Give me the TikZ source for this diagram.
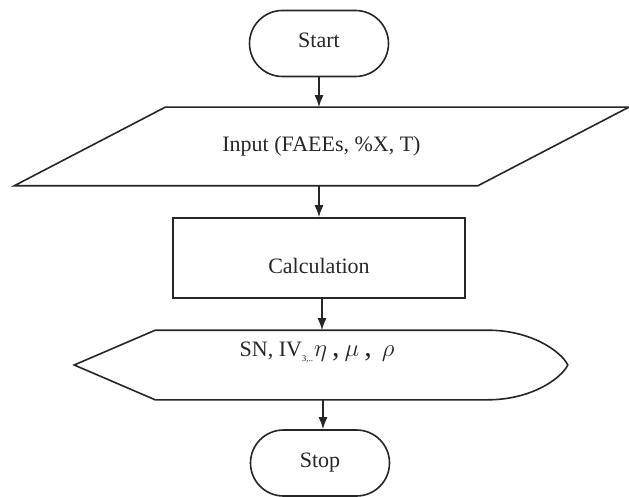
\documentclass[tikz,border=0pt]{standalone}
\usepackage{fontspec}
\setmainfont{Liberation Serif}
\usetikzlibrary{arrows.meta,shapes.misc}

\newcommand{\lowtext}[2]{\raisebox{#1}[0pt][0pt]{#2}}

\begin{document}
\begin{tikzpicture}[x=1pt, y=-1pt, line width=1.6pt, color=black!85,
    font=\fontsize{22}{26}\selectfont,
    terminal/.style={draw, rounded rectangle, minimum width=139pt, minimum height=66pt, inner sep=0pt},
    inout/.style={minimum width=613pt, minimum height=77pt, inner sep=0pt},
    process/.style={draw, rectangle, minimum width=292pt, minimum height=80pt, inner sep=0pt},
    display/.style={minimum width=492pt, minimum height=68pt, inner sep=0pt}]
        \tikzset{>={Latex[length=12pt,width=9pt]}}

        \useasboundingbox (0,0) rectangle (629,497);

	\node[terminal] (start) at (319,43.5) {\lowtext{-4pt}{Start}};
	\node[inout] (input) at (321.5,146.5) {\lowtext{-5.5pt}{Input (FAEEs, \%X, T)}};
	\node[process] (calc) at (319,258) {\lowtext{-16pt}{Calculation}};
	\node[display] (out) at (317,365) {\lowtext{9pt}{SN, IV\raisebox{-5pt}{\fontsize{9}{9}\selectfont 3,..}\hspace{1pt}{\fontsize{30}{30}\selectfont$\eta$\,,\,$\mu$\,,\hspace{10pt}$\rho$}}};
	\node[terminal] (stop) at (320,463) {\lowtext{-4pt}{Stop}};

	% input shape
	\draw (input.south west) -- ([xshift=-151pt]input.south east) -- (input.north east)
	    -- ([xshift=151pt]input.north west) -- cycle;

	% display shape
	\draw ([xshift=4pt]out.west) -- ([xshift=85pt]out.north west) -- ([xshift=-76pt]out.north east)
	    .. controls ([xshift=-33pt]out.north east) and ([xshift=-3pt,yshift=14pt]out.east) .. ([xshift=4pt]out.east)
	    .. controls ([xshift=-3pt,yshift=-14pt]out.east) and ([xshift=-33pt]out.south east) .. ([xshift=-76pt]out.south east)
	    -- ([xshift=85pt]out.south west) -- cycle;

	\draw[->] (start.south) -- (start.south |- input.north);
	\draw[->] (start.south |- input.south) -- (start.south |- calc.north);
	\draw[->] ([xshift=3pt]calc.south) -- ([xshift=3pt]calc.south |- out.north);
	\draw[->] ([xshift=6pt]out.south) -- ([xshift=6pt]out.south |- stop.north);
\end{tikzpicture}
\end{document}
